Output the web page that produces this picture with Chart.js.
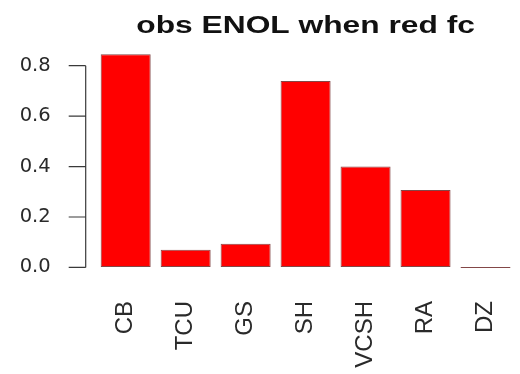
<!DOCTYPE html>
<html>
<head>
<meta charset="utf-8">
<title>obs ENOL when red fc</title>
<script src="https://cdn.jsdelivr.net/npm/chart.js@4/dist/chart.umd.min.js"></script>
<style>
  html, body { margin: 0; padding: 0; background: #ffffff; }
  canvas { display: block; }
</style>
</head>
<body>
<canvas id="chart" width="520" height="374"></canvas>
<script>
// Observed ENOL fraction per category when the forecast is red
const categories = ['CB', 'TCU', 'GS', 'SH', 'VCSH', 'RA', 'DZ'];
const values = [0.845, 0.070, 0.094, 0.739, 0.400, 0.307, 0];
const yTicks = [0, 0.2, 0.4, 0.6, 0.8];
const yTickLabels = ['0.0', '0.2', '0.4', '0.6', '0.8'];
const chartTitle = 'obs ENOL when red fc';

// horizontal widening of the title glyphs
const TITLE_STRETCH = 1.38;

// R-style y axis: line spans only the first to last tick, tick marks point outwards
const rAxisPlugin = {
  id: 'rAxis',
  afterDraw(chart) {
    const y = chart.scales.y;
    const ctx = chart.ctx;
    const x = chart.chartArea.left - 10;
    const tickLen = 17;
    ctx.save();
    ctx.strokeStyle = '#3a3a3a';
    ctx.lineWidth = 1.2;
    ctx.beginPath();
    ctx.moveTo(x, y.getPixelForValue(yTicks[0]));
    ctx.lineTo(x, y.getPixelForValue(yTicks[yTicks.length - 1]));
    yTicks.forEach(v => {
      const py = y.getPixelForValue(v);
      ctx.moveTo(x - tickLen, py);
      ctx.lineTo(x, py);
    });
    ctx.stroke();
    ctx.restore();
  }
};

// Draw the title block widened around its own centre
const titleStretchPlugin = {
  id: 'titleStretch',
  afterInit(chart) {
    const block = chart.titleBlock;
    if (!block) return;
    const draw = block.draw.bind(block);
    block.draw = function () {
      const ctx = chart.ctx;
      const cx = (block.left + block.right) / 2;
      ctx.save();
      ctx.translate(cx, 0);
      ctx.scale(TITLE_STRETCH, 1);
      ctx.translate(-cx, 0);
      draw();
      ctx.restore();
    };
  }
};

new Chart(document.getElementById('chart'), {
  type: 'bar',
  data: {
    labels: categories,
    datasets: [{
      data: values,
      backgroundColor: '#ff0000',
      borderColor: 'rgba(90, 10, 10, 0.75)',
      borderWidth: 1,
      borderSkipped: false,
      minBarLength: 1,
      categoryPercentage: 1.0,
      barPercentage: 0.834
    }]
  },
  options: {
    responsive: false,
    animation: false,
    layout: { padding: { left: 0, right: 4.5, top: 0, bottom: 0 } },
    plugins: {
      legend: { display: false },
      tooltip: { enabled: false },
      title: {
        display: true,
        text: chartTitle,
        fullSize: false,
        color: '#111111',
        font: { family: '"Liberation Sans", Arial, sans-serif', size: 23, weight: 'bold', lineHeight: 1.2 },
        padding: { top: 12.7, bottom: 5.5 }
      }
    },
    scales: {
      x: {
        grid: { display: true, drawOnChartArea: false, color: 'rgba(0,0,0,0)', tickLength: 24 },
        border: { display: false },
        ticks: {
          minRotation: 90,
          maxRotation: 90,
          autoSkip: false,
          padding: 1,
          color: '#2a2a2a',
          font: { family: '"Liberation Sans", Arial, sans-serif', size: 24 }
        },
        afterFit(scale) { scale.height = 98; }
      },
      y: {
        min: -0.034,
        max: 0.879,
        grid: { display: true, drawOnChartArea: false, color: 'rgba(0,0,0,0)', tickLength: 43 },
        border: { display: false },
        afterBuildTicks(scale) {
          scale.ticks = yTicks.map(v => ({ value: v }));
        },
        ticks: {
          padding: 2,
          color: '#2a2a2a',
          font: { family: '"DejaVu Sans", sans-serif', size: 19.5 },
          callback(value) {
            const i = yTicks.indexOf(value);
            return i >= 0 ? yTickLabels[i] : '';
          }
        },
        afterFit(scale) { scale.width = 95.7; }
      }
    }
  },
  plugins: [rAxisPlugin, titleStretchPlugin]
});
</script>
</body>
</html>
